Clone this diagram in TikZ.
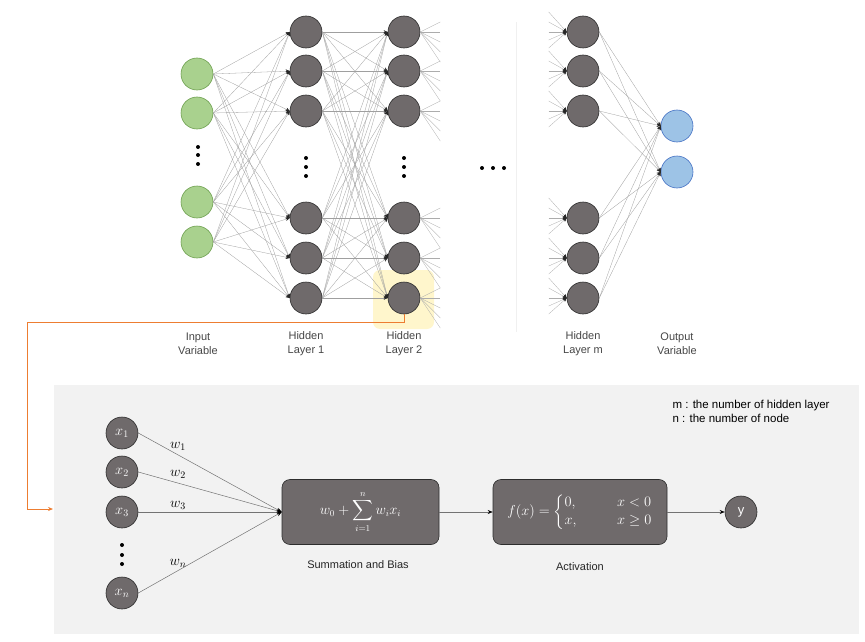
\documentclass[tikz,border=0pt]{standalone}
\usepackage{amsmath}
\usepackage{fontspec}
\setsansfont{Liberation Sans}
\usetikzlibrary{arrows.meta}
\definecolor{nodegray}{RGB}{111,106,107}
\definecolor{nodeedge}{RGB}{45,45,45}
\definecolor{ingreen}{RGB}{169,209,142}
\definecolor{ingreenedge}{RGB}{110,160,80}
\definecolor{outblue}{RGB}{157,195,230}
\definecolor{outblueedge}{RGB}{70,114,196}
\definecolor{hilite}{RGB}{255,246,204}
\definecolor{orangeln}{RGB}{237,125,49}
\definecolor{panelbg}{RGB}{242,242,242}
\definecolor{labelgray}{RGB}{70,70,70}
\begin{document}
\begin{tikzpicture}[x=1pt,y=-1pt,
  neuron/.style={circle,draw=nodeedge,fill=nodegray,minimum size=32pt,inner sep=0pt,line width=0.6pt},
  innode/.style={neuron,draw=ingreenedge,fill=ingreen},
  outnode/.style={neuron,draw=outblueedge,fill=outblue},
  conn/.style={draw=gray!75,line width=0.3pt,-{Stealth[length=4pt,width=3.5pt,color=black!85]}},
  stub/.style={draw=gray!65,line width=0.3pt},
  vdot/.style={circle,fill=black,inner sep=0pt,minimum size=4pt},
  lbl/.style={font=\sffamily\fontsize{11}{14}\selectfont,text=labelgray,align=center},
  xnode/.style={neuron,text=white,font=\fontsize{14}{16}\selectfont},
  procbox/.style={rectangle,rounded corners=8pt,draw=nodeedge,fill=nodegray,line width=0.6pt,minimum width=157pt,minimum height=65pt,text=white},
  wlbl/.style={font=\fontsize{14}{16}\selectfont},
  caption/.style={font=\sffamily\fontsize{11}{13}\selectfont,text=black!85},
  flow/.style={draw=gray!90!black,line width=0.5pt,-{Stealth[length=5pt,width=4pt,color=black]}}
]
\useasboundingbox (0,0) rectangle (865,642);

% highlight
\fill[hilite,rounded corners=7pt] (373,270) rectangle (434,329);
% faint divider
\draw[gray!12,line width=0.6pt] (516,22) -- (516,332);

% input nodes
\node[innode] (i1) at (197,74) {};
\node[innode] (i2) at (197,113) {};
\node[innode] (i3) at (197,202) {};
\node[innode] (i4) at (197,242) {};
% hidden layers
\foreach \n/\y in {1/32,2/71,3/111,4/218,5/258,6/298}{
  \node[neuron] (a\n) at (306,\y) {};
  \node[neuron] (b\n) at (404,\y) {};
  \node[neuron] (m\n) at (583,\y) {};
}
% output
\node[outnode] (o1) at (677,126) {};
\node[outnode] (o2) at (677,172) {};

% dots
\foreach \y [count=\k] in {147,155,164}{\node[vdot] (di\k) at (198,\y) {};}
\foreach \y [count=\k] in {158,167,176}{\node[vdot] (da\k) at (306,\y) {}; \node[vdot] (db\k) at (404,\y) {};}
\foreach \x [count=\k] in {482,493,504}{\node[vdot] (dh\k) at (\x,168) {};}

% connections input -> H1
\foreach \i in {i1,i2,i3,i4}{\foreach \j in {1,...,6}{\draw[conn] (\i.east) -- (a\j.west);}}
% H1 -> H2
\foreach \i in {1,...,6}{\foreach \j in {1,...,6}{\draw[conn] (a\i.east) -- (b\j.west);}}
% Hm -> output
\foreach \i in {1,...,6}{\foreach \j in {1,2}{\draw[conn] (m\i.east) -- (o\j.west);}}

% outgoing stubs of H2
\foreach \n in {1,...,6}{
  \foreach \d [count=\k] in {-10,0,10,20,30}{
    \coordinate (s\n-\k) at ([shift={(20,\d)}]b\n.east);
    \draw[stub] (b\n.east) -- (s\n-\k);
  }
}
% incoming stubs of Hm
\foreach \n in {1,...,6}{
  \foreach \d [count=\k] in {-20,-10,0,8,16}{
    \coordinate (t\n-\k) at ([shift={(-18,\d)}]m\n.west);
    \draw[stub,-{Stealth[length=4pt,width=3.5pt,color=black!85]}] (t\n-\k) -- (m\n.west);
  }
}

% layer labels
\node[lbl] (l1) at (198,344) {Input\\Variable};
\node[lbl] (l2) at (306,344) {Hidden\\Layer 1};
\node[lbl] (l3) at (404,344) {Hidden\\Layer 2};
\node[lbl] (l4) at (583,344) {Hidden\\Layer m};
\node[lbl] (l5) at (677,344) {Output\\Variable};

% bottom panel
\fill[panelbg] (54,385) rectangle (859,634);

% orange link
\coordinate (c1) at (27,322);
\coordinate (c2) at (53,509);
\draw[orangeln,line width=0.7pt,-{Stealth[length=5pt,width=4pt]}] (b6.south) |- (c1) |- (c2);

\node[font=\sffamily\fontsize{11.5}{14}\selectfont,align=left,anchor=west] (leg) at (669,411) {m : the number of hidden layer\\n : the number of node};

\node[xnode] (x1) at (122,433) {$x_1$};
\node[xnode] (x2) at (122,472) {$x_2$};
\node[xnode] (x3) at (122,512) {$x_3$};
\node[xnode] (xn) at (122,593) {$x_n$};
\foreach \y [count=\k] in {545,555,564}{\node[vdot] (dx\k) at (122,\y) {};}

\node[procbox] (sum) at (360.5,512) {\fontsize{13.5}{15}\selectfont$\displaystyle w_0+\sum_{i=1}^{n} w_i x_i$};
\node[procbox,minimum width=174pt] (act) at (580,512) {\fontsize{13.5}{15}\selectfont$f(x)=\begin{cases}0, & \qquad x<0\\ x, & \qquad x\ge 0\end{cases}$};
\node[xnode,font=\sffamily\fontsize{13}{15}\selectfont] (y) at (741,512) {y};

\foreach \x in {x1,x2,x3,xn}{\draw[flow] (\x.east) -- (sum.west);}
\node[wlbl] (w1) at (178,446) {$w_1$};
\node[wlbl] (w2) at (178,474) {$w_2$};
\node[wlbl] (w3) at (178,505) {$w_3$};
\node[wlbl] (wn) at (178,563) {$w_n$};

\draw[flow] (sum.east) -- (act.west);
\draw[flow] (act.east) -- (y.west);

\node[caption] (csum) at (358,565) {Summation and Bias};
\node[caption] (cact) at (580,567) {Activation};
\end{tikzpicture}
\end{document}
